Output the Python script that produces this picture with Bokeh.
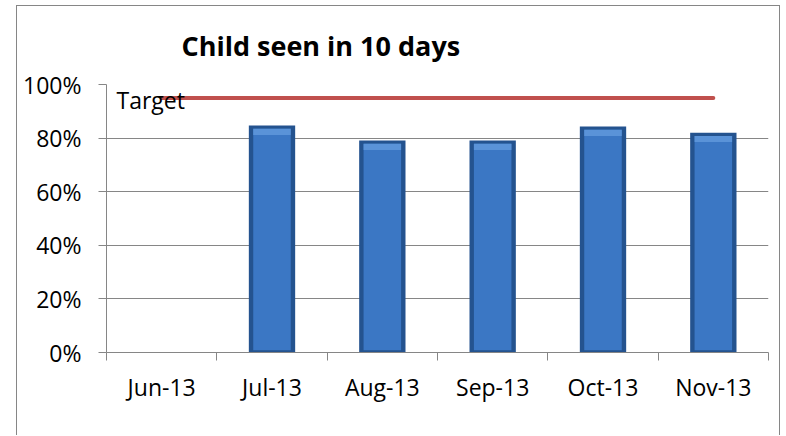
from bokeh.plotting import figure
from bokeh.models import FixedTicker, NumeralTickFormatter, Label, Range1d
from bokeh.embed import file_html
from bokeh.resources import INLINE

months = ["Jun-13", "Jul-13", "Aug-13", "Sep-13", "Oct-13", "Nov-13"]
seen = [None, 0.847, 0.791, 0.791, 0.843, 0.820]
target = [0.95, 0.95, 0.95, 0.95, 0.95, 0.95]
y_ticks = [0, 0.2, 0.4, 0.6, 0.8, 1.0]
title_text = "Child seen in 10 days"
target_label = "Target"

FONT = "Open Sans"
GREY = "#868686"

centers = [i + 0.5 for i in range(len(months))]
bounds = list(range(len(months) + 1))
bar_x = [c for c, v in zip(centers, seen) if v is not None]
bar_top = [v for v in seen if v is not None]

p = figure(width=764, height=430, output_backend="svg", toolbar_location=None,
           x_range=Range1d(0, len(months)), y_range=Range1d(0, 1),
           min_border_left=89, min_border_right=13, min_border_top=78, min_border_bottom=84,
           title=title_text)
p.margin = (5, 0, 0, 16)
p.styles = {"border-top": "1px solid " + GREY, "border-left": "1px solid " + GREY,
            "border-right": "1px solid " + GREY}
p.outline_line_color = None
p.background_fill_color = "white"
p.border_fill_color = "white"

p.title.align = "left"
p.title.vertical_align = "top"
p.title.offset = 75
p.title.standoff = 37
p.title.text_font = FONT
p.title.text_font_size = "27px"
p.title.text_font_style = "bold"
p.title.text_color = "black"

# axes
xa = p.xaxis[0]
xa.ticker = FixedTicker(ticks=centers, minor_ticks=bounds)
xa.major_label_overrides = {c: m for c, m in zip(centers, months)}
xa.major_tick_out = 0
xa.major_tick_in = 0
xa.minor_tick_out = 8
xa.minor_tick_in = 0
xa.axis_line_color = GREY
xa.minor_tick_line_color = GREY
xa.major_label_text_font = FONT
xa.major_label_text_font_size = "23px"
xa.major_label_text_color = "black"
xa.major_label_standoff = 10

ya = p.yaxis[0]
ya.ticker = FixedTicker(ticks=y_ticks, minor_ticks=[])
ya.formatter = NumeralTickFormatter(format="0%")
ya.major_tick_out = 8
ya.major_tick_in = 0
ya.axis_line_color = GREY
ya.major_tick_line_color = GREY
ya.major_label_text_font = FONT
ya.major_label_text_font_size = "23px"
ya.major_label_text_color = "black"
ya.major_label_standoff = 17

p.xgrid.visible = False
p.ygrid.ticker = FixedTicker(ticks=y_ticks[1:])
p.ygrid.grid_line_color = GREY

# bars (bevelled look)
p.vbar(x=bar_x, top=bar_top, bottom=0, width=0.42, fill_color="#24538f", line_color=None)
p.vbar(x=bar_x, top=[v - 0.012 for v in bar_top], bottom=0.008, width=0.34,
       fill_color="#3b77c4", line_color=None)
p.vbar(x=bar_x, top=[v - 0.012 for v in bar_top], bottom=[v - 0.035 for v in bar_top],
       width=0.34, fill_color="#5a93d8", line_color=None)

# target line
p.line(x=centers, y=target, line_color="#C0504D", line_width=4, line_cap="round")
p.add_layout(Label(x=0, y=target[0], text=target_label, x_offset=10, y_offset=-2,
                   text_baseline="middle", text_font=FONT, text_font_size="23px",
                   text_color="black"))

open("out.html", "w").write(file_html(p, INLINE))
